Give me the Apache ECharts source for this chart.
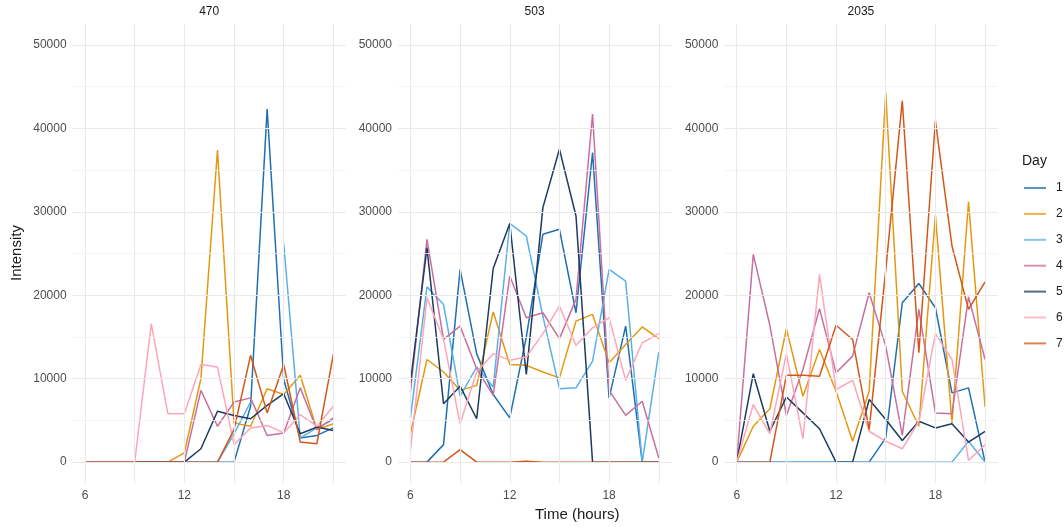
<!DOCTYPE html>
<html>
<head>
<meta charset="utf-8">
<script src="https://cdn.jsdelivr.net/npm/echarts@6/dist/echarts.min.js"></script>
<style>
  html, body { margin: 0; padding: 0; background: #ffffff; }
  #chart { width: 1064px; height: 527px; }
</style>
</head>
<body>
<div id="chart"></div>
<script>
// Hourly intensity readings per location, one line per day
const hours = [6, 7, 8, 9, 10, 11, 12, 13, 14, 15, 16, 17, 18, 19, 20, 21];
const panels = ['470', '503', '2035'];
const days = ['1', '2', '3', '4', '5', '6', '7'];

// Location 470
const loc470_day1 = [0, 0, 0, 0, 0, 0, 0, 0, 0, 0, 6700, 42300, 9900, 2900, 3200, 4100];
const loc470_day2 = [0, 0, 0, 0, 0, 0, 1100, 10000, 37400, 4700, 4300, 8800, 8100, 10400, 3900, 4600];
const loc470_day3 = [0, 0, 0, 0, 0, 0, 0, 0, 0, 3400, 7200, null, 26200, 2900, 4100, 5100];
const loc470_day4 = [0, 0, 0, 0, 0, 0, 0, 8600, 4300, 7200, 7700, 3200, 3500, 8900, 3900, 5300];
const loc470_day5 = [0, 0, 0, 0, 0, 0, 0, 1600, 6100, 5600, 5200, 6800, 8200, 3400, 4200, 3800];
const loc470_day6 = [0, 0, 0, 0, 16600, 5800, 5800, 11700, 11400, 2100, 4100, 4400, 3500, 5700, 4300, 6700];
const loc470_day7 = [0, 0, 0, 0, 0, 0, 0, 0, 0, 3900, 12800, 5900, 11700, 2400, 2200, 12900];

// Location 503
const loc503_day1 = [0, 0, 2100, 23100, 13000, 8100, 5300, 15000, 27300, 27900, 17900, 37100, 7700, 16300, 0, 0];
const loc503_day2 = [3400, 12300, 10800, 8600, 9200, 18000, 11700, 11600, 10800, 10100, 16900, 17700, 11900, 14100, 16200, 14800];
const loc503_day3 = [5300, 21000, 18900, 7900, 11400, 9000, 28600, 27100, 17500, 8800, 8900, 12100, 23100, 21700, 0, 13200];
const loc503_day4 = [8400, 26700, 14700, 16300, 11200, 8000, 22300, 17300, 17900, 14800, 19500, 41700, 8600, 5600, 7300, 500];
const loc503_day5 = [9500, 25700, 7000, 9100, 5200, 23200, 28600, 10500, 30500, 37500, 29500, 0, 0, 0, 0, 0];
const loc503_day6 = [1400, 19700, 14700, 4600, 10800, 13000, 12200, 12600, 15400, 18700, 14000, 16100, 17300, 9800, 14300, 15400];
const loc503_day7 = [0, 0, 0, 1500, 0, 0, 0, 100, 0, 0, 0, 0, 0, 0, 0, 0];

// Location 2035
const loc2035_day1 = [0, 0, 0, 0, 0, 0, 0, 0, 0, 2900, 19100, 21400, 18500, 8300, 8900, 0];
const loc2035_day2 = [0, 4300, 6400, 16000, 7900, 13500, 8500, 2500, 8500, 44200, 8500, 4300, 29600, 4700, 31200, 6600];
const loc2035_day3 = [0, 0, 0, 0, 0, 0, 0, 0, 0, 0, 0, 0, 0, 0, 2500, 0];
const loc2035_day4 = [0, 24900, 16400, 5600, 11100, 18400, 10700, 12700, 20300, 13900, 3200, 18300, 5900, 5800, 19800, 12300];
const loc2035_day5 = [0, 10600, 3700, 7800, 5900, 4000, 0, 0, 7500, 5100, 2600, 4900, 4100, 4600, 2400, 3700];
const loc2035_day6 = [0, 6900, 3400, 13000, 2800, 22500, 8700, 9800, 3700, 2500, 1600, 4900, 15400, 12300, 200, 2100];
const loc2035_day7 = [0, 0, 0, 10400, 10400, 10300, 16400, 14700, 3900, 23000, 43300, 13100, 40900, 25900, 18300, 21600];

const xTickLabels = [6, 12, 18];
const xGridValues = [6, 9, 12, 15, 18, 21];
const yTickLabels = [0, 10000, 20000, 30000, 40000, 50000];
const yMinorValues = [5000, 15000, 25000, 35000, 45000];

const panelData = [
  [loc470_day1, loc470_day2, loc470_day3, loc470_day4, loc470_day5, loc470_day6, loc470_day7],
  [loc503_day1, loc503_day2, loc503_day3, loc503_day4, loc503_day5, loc503_day6, loc503_day7],
  [loc2035_day1, loc2035_day2, loc2035_day3, loc2035_day4, loc2035_day5, loc2035_day6, loc2035_day7]
];

const dayColors = ['#1f6fb2', '#e3980f', '#5ab0e6', '#c7709f', '#1d3a61', '#ffa5b8', '#d2571a'];

const FONT = '"Liberation Sans", Arial, Helvetica, sans-serif';
const gridLefts = [72.6, 398, 724.3];
const gridWidth = 273.2;
const gridTop = 24;
const gridHeight = 459;

const grids = [], xAxes = [], yAxes = [], series = [], titles = [];

panels.forEach((name, p) => {
  grids.push({ left: gridLefts[p], top: gridTop, width: gridWidth, height: gridHeight, containLabel: false });
  xAxes.push({
    type: 'value', gridIndex: p, min: 5.25, max: 21.75, interval: 0.75,
    axisLine: { show: false }, axisTick: { show: false }, splitLine: { show: false },
    axisLabel: {
      margin: 7, color: '#4d4d4d', fontSize: 12, fontFamily: FONT,
      formatter: v => xTickLabels.some(t => Math.abs(t - v) < 1e-6) ? String(Math.round(v)) : ''
    }
  });
  yAxes.push({
    type: 'value', gridIndex: p, min: -2500, max: 52500, interval: 2500,
    axisLine: { show: false }, axisTick: { show: false }, splitLine: { show: false },
    axisLabel: {
      margin: 6, color: '#4d4d4d', fontSize: 12, fontFamily: FONT,
      formatter: v => yTickLabels.some(t => Math.abs(t - v) < 1e-6) ? String(Math.round(v)) : ''
    }
  });
  titles.push({
    text: name, left: gridLefts[p] + gridWidth / 2, top: 6, padding: 0, textAlign: 'center',
    textStyle: { fontSize: 12, fontWeight: 'normal', color: '#1a1a1a', fontFamily: FONT }
  });

  // panel grid lines, drawn beneath the data lines
  const major = { color: '#e9e9e9', width: 1.1, type: 'solid' };
  const minor = { color: '#f1f1f1', width: 0.8, type: 'solid' };
  series.push({
    type: 'line', xAxisIndex: p, yAxisIndex: p, data: [], z: 1, silent: true,
    markLine: {
      silent: true, symbol: ['none', 'none'], label: { show: false }, animation: false,
      data: [
        ...yMinorValues.map(v => ({ yAxis: v, lineStyle: minor })),
        ...yTickLabels.map(v => ({ yAxis: v, lineStyle: major })),
        ...xGridValues.map(v => ({ xAxis: v, lineStyle: major }))
      ]
    }
  });

  panelData[p].forEach((vals, d) => {
    series.push({
      name: days[d], type: 'line', xAxisIndex: p, yAxisIndex: p, z: 2,
      symbol: 'none', showSymbol: false, connectNulls: false, animation: false,
      color: dayColors[d],
      lineStyle: { width: 1.5, color: dayColors[d] },
      data: hours.map((h, i) => [h, vals[i]])
    });
  });
});

titles.push({
  text: 'Day', left: 1022, top: 154, padding: 0,
  textStyle: { fontSize: 14, fontWeight: 'normal', color: '#1a1a1a', fontFamily: FONT }
});

const chart = echarts.init(document.getElementById('chart'), null, { renderer: 'canvas' });
chart.setOption({
  backgroundColor: '#ffffff',
  animation: false,
  title: titles,
  grid: grids,
  xAxis: xAxes,
  yAxis: yAxes,
  legend: {
    data: days, orient: 'vertical', left: 1019, top: 177,
    icon: 'path://M0,0 L22,0 L22,2 L0,2 Z',
    itemWidth: 22, itemHeight: 14, itemGap: 13.9,
    itemStyle: { opacity: 0.75 },
    textStyle: { fontSize: 12, color: '#1a1a1a', fontFamily: FONT, padding: [0, 0, 0, 5] },
    selectedMode: false
  },
  graphic: [
    {
      type: 'text', left: 535, top: 507,
      style: { text: 'Time (hours)', fill: '#1a1a1a', font: '15px ' + FONT, textAlign: 'center' }
    },
    {
      type: 'text', x: 17, y: 253, rotation: Math.PI / 2,
      style: { text: 'Intensity', fill: '#1a1a1a', font: '15px ' + FONT, textAlign: 'center', textVerticalAlign: 'middle' }
    }
  ],
  series: series
});
</script>
</body>
</html>
